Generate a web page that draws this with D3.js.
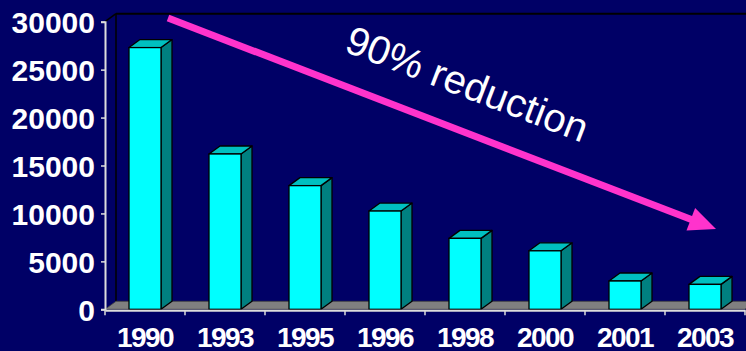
<!DOCTYPE html>
<html>
<head>
<meta charset="utf-8">
<script src="https://cdn.jsdelivr.net/npm/d3@7"></script>
<style>
  body { margin: 0; background: #000066; }
  svg { display: block; }
</style>
</head>
<body>
<div id="chart"></div>
<script>
// chart values
var years = ["1990", "1993", "1995", "1996", "1998", "2000", "2001", "2003"];
var cases = [27300, 16200, 12900, 10250, 7400, 6100, 2950, 2600];
var yTicks = [0, 5000, 10000, 15000, 20000, 25000, 30000];
var note = "90% reduction";

var W = 746, H = 351;
var dx = 11, dy = -8; // 3d depth offset

var svg = d3.select("#chart").append("svg")
  .attr("width", W).attr("height", H);

svg.append("rect").attr("width", W).attr("height", H).attr("fill", "#000066");

var x = d3.scaleBand().domain(years).range([105, 745]).padding(0);
var y = d3.scaleLinear().domain([0, 30000]).range([309.3, 21.7]);
var barW = x.bandwidth() * 0.4;

var y0 = y(0), yTop = y(30000);

// left wall
svg.append("path")
  .attr("d", "M105," + y0 + "L105," + yTop + "L" + (105 + dx) + "," + (yTop + dy) + "L" + (105 + dx) + "," + (y0 + dy) + "Z")
  .attr("fill", "#000066").attr("stroke", "none");
svg.append("line")
  .attr("x1", 105).attr("y1", yTop).attr("x2", 105 + dx).attr("y2", yTop + dy)
  .attr("stroke", "#000").attr("stroke-width", 1.5);
svg.append("line")
  .attr("x1", 105 + dx).attr("y1", yTop + dy).attr("x2", 105 + dx).attr("y2", y0 + dy)
  .attr("stroke", "#000").attr("stroke-width", 1.5);
// back wall top edge
svg.append("line")
  .attr("x1", 105 + dx).attr("y1", yTop + dy).attr("x2", W).attr("y2", yTop + dy)
  .attr("stroke", "#000").attr("stroke-width", 2);

// floor
svg.append("path")
  .attr("d", "M105," + y0 + "L745," + y0 + "L" + (745 + dx) + "," + (y0 + dy) + "L" + (105 + dx) + "," + (y0 + dy) + "Z")
  .attr("fill", "#808080").attr("stroke", "#404040").attr("stroke-width", 0.8);

// bars
var bars = svg.selectAll("g.bar")
  .data(years.map(function (d, i) { return { year: d, v: cases[i] }; }))
  .enter().append("g").attr("class", "bar");

bars.each(function (d) {
  var g = d3.select(this);
  var x0 = x(d.year) + (x.bandwidth() - barW) / 2, x1 = x0 + barW;
  var yt = y(d.v);
  // side
  g.append("path")
    .attr("d", "M" + x1 + "," + y0 + "L" + x1 + "," + yt + "L" + (x1 + dx) + "," + (yt + dy) + "L" + (x1 + dx) + "," + (y0 + dy) + "Z")
    .attr("fill", "#008080").attr("stroke", "#000").attr("stroke-width", 1.3).attr("stroke-linejoin", "round");
  // top
  g.append("path")
    .attr("d", "M" + x0 + "," + yt + "L" + x1 + "," + yt + "L" + (x1 + dx) + "," + (yt + dy) + "L" + (x0 + dx) + "," + (yt + dy) + "Z")
    .attr("fill", "#00C0C0").attr("stroke", "#000").attr("stroke-width", 1.3).attr("stroke-linejoin", "round");
  // front
  g.append("rect")
    .attr("x", x0).attr("y", yt).attr("width", barW).attr("height", y0 - yt)
    .attr("fill", "#00FFFF").attr("stroke", "#000").attr("stroke-width", 1.3);
});

// y axis
var yAxis = svg.append("g")
  .attr("transform", "translate(105,0)")
  .call(d3.axisLeft(y).tickValues(yTicks).tickSize(4).tickPadding(6).tickFormat(d3.format("d")));
yAxis.select(".domain").attr("stroke", "#DDDDDD").attr("stroke-width", 2);
yAxis.selectAll(".tick line").attr("stroke", "#DDDDDD").attr("stroke-width", 1.5);
yAxis.selectAll(".tick text")
  .attr("fill", "#fff")
  .attr("font-family", "Liberation Sans, Arial, sans-serif")
  .attr("font-weight", "bold")
  .attr("font-size", "30px")
  .attr("dy", "0.36em");

// x axis
var xAxis = svg.append("g")
  .attr("transform", "translate(0," + (y0 + 1) + ")")
  .call(d3.axisBottom(x).tickSize(0).tickPadding(17));
xAxis.select(".domain").attr("stroke", "#DDDDDD").attr("stroke-width", 2);
xAxis.selectAll(".tick text")
  .attr("fill", "#fff")
  .attr("font-family", "Liberation Sans, Arial, sans-serif")
  .attr("font-weight", "bold")
  .attr("font-size", "28px")
  .attr("letter-spacing", "-1.6px");
// category boundary ticks
xAxis.selectAll("line.sep")
  .data(years.map(function (d) { return x(d); }).concat([x.range()[1]]))
  .enter().append("line").attr("class", "sep")
  .attr("x1", function (d) { return d; }).attr("x2", function (d) { return d; })
  .attr("y1", 0).attr("y2", 5)
  .attr("stroke", "#DDDDDD").attr("stroke-width", 1.5);

// arrow
var ax0 = 168, ay0 = 18, ax1 = 716, ay1 = 229;
var ang = Math.atan2(ay1 - ay0, ax1 - ax0);
var headL = 27, headW = 12;
var bx = ax1 - headL * Math.cos(ang), by = ay1 - headL * Math.sin(ang);
svg.append("line")
  .attr("x1", ax0).attr("y1", ay0).attr("x2", bx + 2 * Math.cos(ang)).attr("y2", by + 2 * Math.sin(ang))
  .attr("stroke", "#FF33CC").attr("stroke-width", 7);
svg.append("path")
  .attr("d", "M" + ax1 + "," + ay1 +
    "L" + (bx + headW * Math.sin(ang)) + "," + (by - headW * Math.cos(ang)) +
    "L" + (bx - headW * Math.sin(ang)) + "," + (by + headW * Math.cos(ang)) + "Z")
  .attr("fill", "#FF33CC");

svg.append("text")
  .attr("transform", "translate(343,51) rotate(21)")
  .attr("fill", "#fff")
  .attr("font-family", "Liberation Sans, Arial, sans-serif")
  .attr("font-size", "40px")
  .text(note);
</script>
</body>
</html>
